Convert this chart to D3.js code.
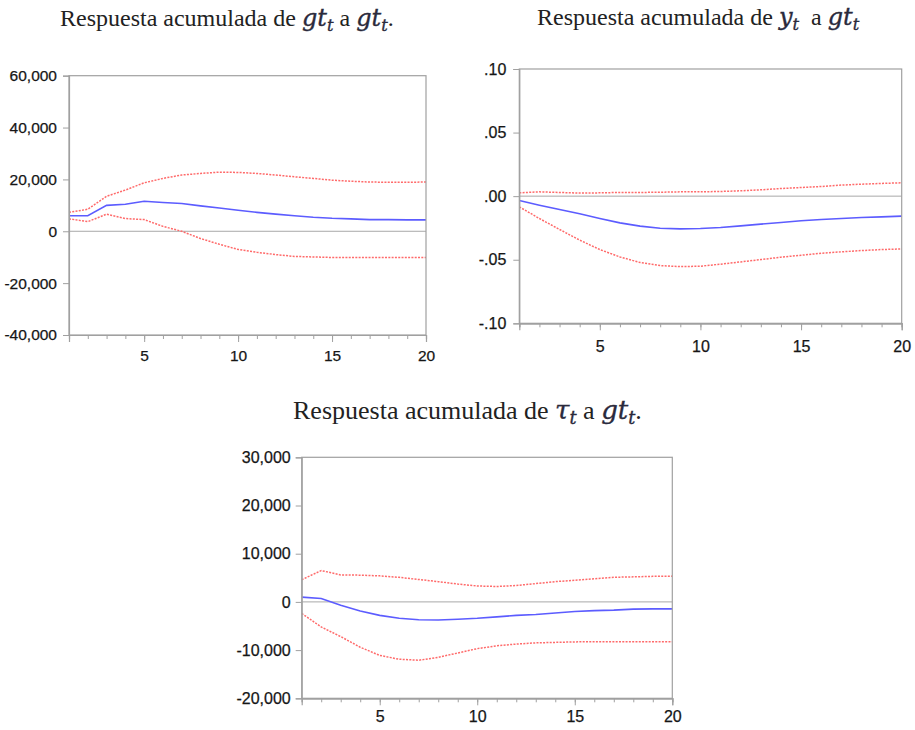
<!DOCTYPE html>
<html><head><meta charset="utf-8">
<script src="https://cdn.jsdelivr.net/npm/d3@7"></script>
<style>body{margin:0;background:#fff}svg{display:block}</style>
</head><body>
<svg id="chart" width="915" height="730"></svg>
<script>
// ---------- data ----------
const periods = d3.range(1, 21);

const gtResp  = [6000,6000,10000,10400,11600,11100,10700,9800,9000,8100,7300,6600,6000,5400,5000,4800,4500,4500,4400,4400];
const gtUpper = [7300,8500,13500,15900,18700,20400,21700,22300,22800,22700,22300,21700,21000,20400,19700,19300,19000,18900,18900,19000];
const gtLower = [4800,3700,6600,4900,4500,1900,0,-2800,-5000,-7000,-8100,-9000,-9700,-9900,-10100,-10100,-10100,-10100,-10100,-10100];

const yResp  = [-0.0034,-0.0071,-0.0105,-0.0139,-0.0176,-0.0210,-0.0236,-0.0252,-0.0257,-0.0255,-0.0247,-0.0234,-0.0220,-0.0207,-0.0194,-0.0184,-0.0176,-0.0168,-0.0163,-0.0157];
const yUpper = [0.0026,0.0034,0.0029,0.0024,0.0026,0.0029,0.0029,0.0031,0.0034,0.0034,0.0037,0.0042,0.0050,0.0060,0.0068,0.0076,0.0087,0.0094,0.0100,0.0105];
const yLower = [-0.0084,-0.0176,-0.0262,-0.0346,-0.0420,-0.0478,-0.0522,-0.0546,-0.0554,-0.0551,-0.0535,-0.0517,-0.0499,-0.0480,-0.0465,-0.0449,-0.0438,-0.0428,-0.0420,-0.0415];

const tauResp  = [1000,700,-700,-1900,-2800,-3400,-3700,-3750,-3600,-3400,-3100,-2800,-2600,-2300,-2000,-1800,-1700,-1500,-1450,-1450];
const tauUpper = [4600,6500,5600,5550,5400,5100,4650,4200,3700,3300,3200,3400,3800,4200,4500,4800,5100,5200,5300,5350];
const tauLower = [-2400,-5200,-7200,-9400,-11100,-11900,-12100,-11500,-10600,-9700,-9100,-8750,-8500,-8400,-8300,-8250,-8250,-8250,-8250,-8250];

const gtTicks  = [-40000,-20000,0,20000,40000,60000];
const yTicks   = [-0.10,-0.05,0,0.05,0.10];
const tauTicks = [-20000,-10000,0,10000,20000,30000];
const xLabelTicks = [5,10,15,20];

const title1 = [["Respuesta acumulada de ","p"],["gt","v"],["t","s"],[" a ","p"],["gt","v"],["t","s"],[".","p"]];
const title2 = [["Respuesta acumulada de ","p"],["y","v"],["t","s"],["  a ","p"],["gt","v"],["t","s"]];
const title3 = [["Respuesta acumulada de ","p"],["τ","v"],["t","s"],[" a ","p"],["gt","v"],["t","s"],[".","p"]];

// ---------- formatting ----------
const locale = d3.formatLocale({decimal:".", thousands:",", grouping:[3], currency:["",""], minus:"-"});
const fmtThousands = locale.format(",");
const fmtDec = v => { const s = locale.format(".2f")(v); return s.replace(/^(-?)0\./, "$1."); };

const svg = d3.select("#chart");

function drawTitle(parts, x, y, size) {
  const t = svg.append("text").attr("x", x).attr("y", y)
    .attr("font-family", "'Liberation Serif','Times New Roman',serif")
    .attr("font-size", size).attr("fill", "#222");
  const sub = size * 0.2;
  let shifted = false;
  parts.forEach(([txt, kind]) => {
    const sp = t.append("tspan").text(txt).style("white-space","pre");
    if (kind === "v" || kind === "s") {
      sp.attr("font-family", "'DejaVu Serif',serif").attr("font-style","italic")
        .attr("fill", "#2a2a3c").attr("stroke", "#2a2a3c").attr("stroke-width", 0.35)
        .attr("font-size", kind === "v" ? size*1.0 : size*0.68);
    }
    if (kind === "s") { sp.attr("dy", sub); shifted = true; }
    else if (shifted) { sp.attr("dy", -sub); shifted = false; }
  });
}

function panel(cfg) {
  const x = d3.scaleLinear().domain([1, 20]).range([cfg.left, cfg.right]);
  const y = d3.scaleLinear().domain(d3.extent(cfg.ticks)).range([cfg.bottom, cfg.top]);
  const g = svg.append("g");

  g.append("line").attr("x1", x(1)).attr("x2", x(20)).attr("y1", y(0)).attr("y2", y(0))
    .attr("stroke", "#a8a8a8").attr("stroke-width", 1);

  const line = d3.line().x((d, i) => x(periods[i])).y(d => y(d));
  [cfg.upper, cfg.lower].forEach(s => {
    g.append("path").datum(s).attr("d", line).attr("fill", "none")
      .attr("stroke", "#ff6a6a").attr("stroke-width", 1.5).attr("stroke-dasharray", "2,1.3");
  });
  g.append("path").datum(cfg.resp).attr("d", line).attr("fill", "none")
    .attr("stroke", "#5c5cff").attr("stroke-width", 1.6);

  g.append("rect").attr("x", cfg.left).attr("y", cfg.top)
    .attr("width", cfg.right - cfg.left).attr("height", cfg.bottom - cfg.top)
    .attr("fill", "none").attr("stroke", "#a0a0a0").attr("stroke-width", 1.2);

  const ya = g.append("g").attr("transform", `translate(${cfg.left},0)`)
    .call(d3.axisLeft(y).tickValues(cfg.ticks).tickFormat(cfg.fmt).tickSize(6).tickPadding(cfg.yPad));
  const xm = g.append("g").attr("transform", `translate(0,${cfg.bottom})`)
    .call(d3.axisBottom(x).tickValues(periods).tickFormat("").tickSize(4));
  const xa = g.append("g").attr("transform", `translate(0,${cfg.bottom})`)
    .call(d3.axisBottom(x).tickValues(xLabelTicks).tickFormat(d3.format("d")).tickSize(7).tickPadding(cfg.xPad));
  [ya, xm, xa].forEach(a => {
    a.select(".domain").attr("stroke", "#a0a0a0").attr("stroke-width", 1.2);
    a.selectAll(".tick line").attr("stroke", "#a0a0a0").attr("stroke-width", 1);
    a.selectAll("text").attr("font-family", "'Liberation Sans',Arial,sans-serif")
      .attr("font-size", cfg.fs).attr("fill", "#161616")
      .attr("stroke", "#161616").attr("stroke-width", 0.25);
  });
}

drawTitle(title1, 60, 26, 24);
drawTitle(title2, 537, 25, 24);
drawTitle(title3, 293, 419, 26);

panel({left:69, right:426, top:75.7, bottom:335, ticks:gtTicks, fmt:fmtThousands,
       resp:gtResp, upper:gtUpper, lower:gtLower, yPad:6, xPad:8, fs:15.5});
panel({left:519.3, right:901.7, top:69, bottom:323.3, ticks:yTicks, fmt:fmtDec,
       resp:yResp, upper:yUpper, lower:yLower, yPad:7, xPad:10, fs:16});
panel({left:301.7, right:672.3, top:457.3, bottom:698.3, ticks:tauTicks, fmt:fmtThousands,
       resp:tauResp, upper:tauUpper, lower:tauLower, yPad:5, xPad:5, fs:16});
</script>
</body></html>
